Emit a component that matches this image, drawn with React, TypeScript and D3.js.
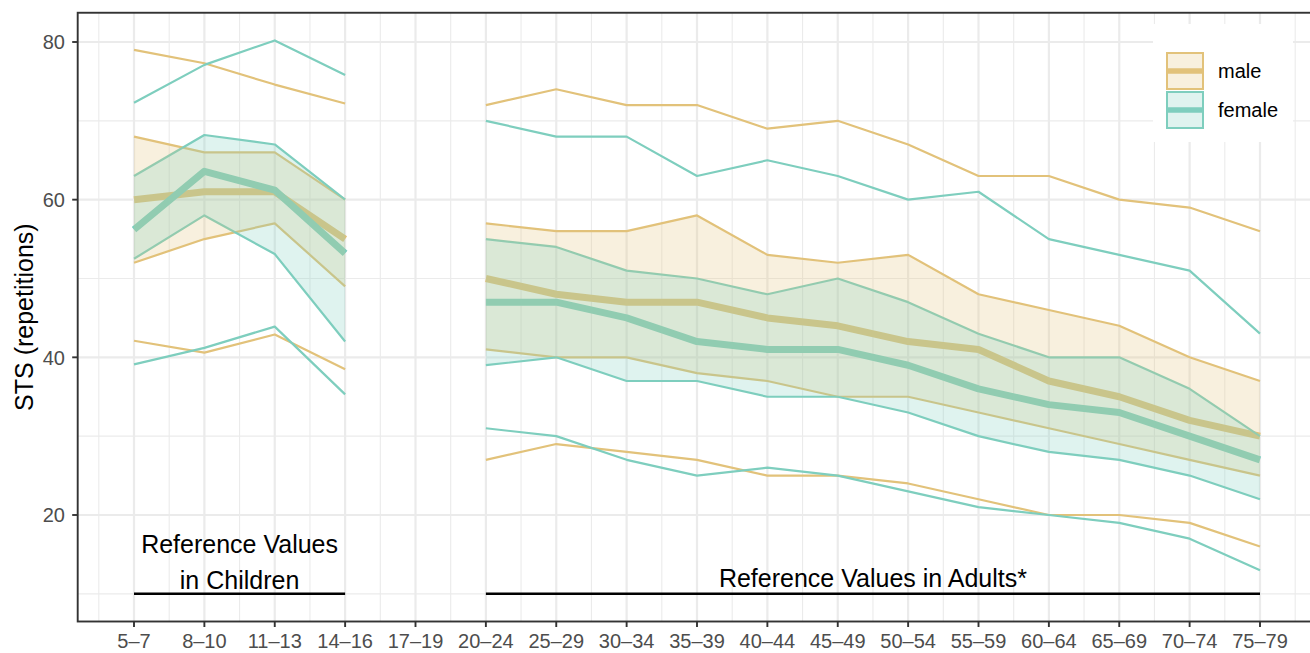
import React from "react";
import * as d3 from "d3";

const childAges = ["5–7", "8–10", "11–13", "14–16"];
const gapAges = ["17–19"];
const adultAges = ["20–24", "25–29", "30–34", "35–39", "40–44", "45–49", "50–54", "55–59", "60–64", "65–69", "70–74", "75–79"];
const ageLabels = [...childAges, ...gapAges, ...adultAges];

const yTicks = [20, 40, 60, 80];
const yMinor = [10, 30, 50, 70];

// children
const maleChildTop = [79, 77.3, 74.6, 72.2];
const maleChildUpper = [68, 66, 66, 60];
const maleChildMedian = [60, 61, 61, 55];
const maleChildLower = [52, 55, 57, 49];
const maleChildBottom = [42.1, 40.6, 42.9, 38.5];
const femaleChildTop = [72.3, 77.1, 80.2, 75.8];
const femaleChildUpper = [63, 68.2, 67, 60];
const femaleChildMedian = [56.2, 63.6, 61.2, 53.2];
const femaleChildLower = [52.5, 58, 53.1, 42];
const femaleChildBottom = [39.1, 41.2, 43.9, 35.3];

// adults
const maleAdultTop = [72, 74, 72, 72, 69, 70, 67, 63, 63, 60, 59, 56];
const maleAdultUpper = [57, 56, 56, 58, 53, 52, 53, 48, 46, 44, 40, 37];
const maleAdultMedian = [50, 48, 47, 47, 45, 44, 42, 41, 37, 35, 32, 30];
const maleAdultLower = [41, 40, 40, 38, 37, 35, 35, 33, 31, 29, 27, 25];
const maleAdultBottom = [27, 29, 28, 27, 25, 25, 24, 22, 20, 20, 19, 16];
const femaleAdultTop = [70, 68, 68, 63, 65, 63, 60, 61, 55, 53, 51, 43];
const femaleAdultUpper = [55, 54, 51, 50, 48, 50, 47, 43, 40, 40, 36, 30];
const femaleAdultMedian = [47, 47, 45, 42, 41, 41, 39, 36, 34, 33, 30, 27];
const femaleAdultLower = [39, 40, 37, 37, 35, 35, 33, 30, 28, 27, 25, 22];
const femaleAdultBottom = [31, 30, 27, 25, 26, 25, 23, 21, 20, 19, 17, 13];

const refLineValue = 10;

const MALE = "#E2C27A";
const FEMALE = "#7ECEBE";
const FONT = "'Liberation Sans', Arial, Helvetica, sans-serif";

export default function App() {
  const W = 1310, H = 653;
  const x = d3.scaleLinear().domain([0.2, 17.8]).range([77.7, 1316.3]);
  const y = d3.scaleLinear().domain([6.49, 83.71]).range([621.5, 12.75]);
  const pos = (label: string) => ageLabels.indexOf(label) + 1;

  const line = d3.line<[number, number]>().x(d => x(d[0])).y(d => y(d[1]));
  const area = d3.area<[number, number, number]>().x(d => x(d[0])).y0(d => y(d[1])).y1(d => y(d[2]));

  const pts = (ages: string[], vals: number[]) => ages.map((a, i) => [pos(a), vals[i]] as [number, number]);
  const band = (ages: string[], lo: number[], hi: number[]) => ages.map((a, i) => [pos(a), lo[i], hi[i]] as [number, number, number]);

  const sections = [
    { ages: childAges, m: [maleChildTop, maleChildUpper, maleChildMedian, maleChildLower, maleChildBottom], f: [femaleChildTop, femaleChildUpper, femaleChildMedian, femaleChildLower, femaleChildBottom] },
    { ages: adultAges, m: [maleAdultTop, maleAdultUpper, maleAdultMedian, maleAdultLower, maleAdultBottom], f: [femaleAdultTop, femaleAdultUpper, femaleAdultMedian, femaleAdultLower, femaleAdultBottom] },
  ];

  const xMajor = ageLabels.map((_, i) => i + 1);
  const xMinor = d3.range(0, 18).map(i => i + 0.5);
  const [px0, px1] = x.range();
  const [py0, py1] = y.range();

  const lines: React.ReactNode[] = [];
  sections.forEach((s, si) => {
    [{ arr: s.m, c: MALE, k: "m" }, { arr: s.f, c: FEMALE, k: "f" }].forEach(g => {
      g.arr.forEach((vals, vi) => {
        lines.push(
          <path key={`l${si}${g.k}${vi}`} d={line(pts(s.ages, vals)) || ""} fill="none" stroke={g.c}
            strokeWidth={vi === 2 ? 7 : 2.2} strokeLinejoin="round" />
        );
      });
    });
  });

  const ribbons: React.ReactNode[] = [];
  [{ k: "m", c: MALE }, { k: "f", c: FEMALE }].forEach(g => {
    sections.forEach((s, si) => {
      const arr = g.k === "m" ? s.m : s.f;
      ribbons.push(
        <path key={`r${g.k}${si}`} d={area(band(s.ages, arr[3], arr[1])) || ""} fill={g.c} fillOpacity={0.25} stroke="none" />
      );
    });
  });

  const cMid = (x(pos(childAges[0])) + x(pos(childAges[childAges.length - 1]))) / 2;
  const aMid = (x(pos(adultAges[0])) + x(pos(adultAges[adultAges.length - 1]))) / 2;
  const yRef = y(refLineValue);

  return (
    <svg width={W} height={H} style={{ position: "absolute", left: 0, top: 0, background: "#fff" }} fontFamily={FONT}>
      <defs>
        <clipPath id="panel"><rect x={px0} y={py1} width={px1 - px0} height={py0 - py1} /></clipPath>
      </defs>
      <rect x={0} y={0} width={W} height={H} fill="#fff" />
      <g clipPath="url(#panel)">
        {yMinor.map(v => <line key={`ym${v}`} x1={px0} x2={px1} y1={y(v)} y2={y(v)} stroke="#EBEBEB" strokeWidth={1.1} />)}
        {xMinor.map(v => <line key={`xm${v}`} y1={py0} y2={py1} x1={x(v)} x2={x(v)} stroke="#EBEBEB" strokeWidth={1.1} />)}
        {yTicks.map(v => <line key={`yM${v}`} x1={px0} x2={px1} y1={y(v)} y2={y(v)} stroke="#EBEBEB" strokeWidth={2.2} />)}
        {xMajor.map(v => <line key={`xM${v}`} y1={py0} y2={py1} x1={x(v)} x2={x(v)} stroke="#EBEBEB" strokeWidth={2.2} />)}
        {lines}
        {ribbons}
        <line x1={x(pos(childAges[0]))} x2={x(pos(childAges[childAges.length - 1]))} y1={yRef} y2={yRef} stroke="#000" strokeWidth={2.5} />
        <line x1={x(pos(adultAges[0]))} x2={x(pos(adultAges[adultAges.length - 1]))} y1={yRef} y2={yRef} stroke="#000" strokeWidth={2.5} />
        <text x={cMid} y={yRef - 41} textAnchor="middle" fontSize={25} fill="#000">Reference Values</text>
        <text x={cMid} y={yRef - 5} textAnchor="middle" fontSize={25} fill="#000">in Children</text>
        <text x={aMid} y={yRef - 7} textAnchor="middle" fontSize={25} fill="#000">Reference Values in Adults*</text>
        {/* legend */}
        <rect x={1153} y={24} width={140} height={118} fill="#fff" />
        {[{ label: "male", c: MALE }, { label: "female", c: FEMALE }].map((d, i) => {
          const ky = 53 + i * 39;
          return (
            <g key={d.label}>
              <rect x={1167} y={ky} width={36} height={36} fill="#fff" />
              <line x1={1168} x2={1202} y1={ky + 18} y2={ky + 18} stroke={d.c} strokeWidth={5.5} />
              <rect x={1167} y={ky} width={36} height={36} fill={d.c} fillOpacity={0.25} stroke={d.c} strokeWidth={2} />
              <text x={1218} y={ky + 24.5} fontSize={20} fill="#000">{d.label}</text>
            </g>
          );
        })}
      </g>
      <rect x={px0} y={py1} width={px1 - px0} height={py0 - py1} fill="none" stroke="#333333" strokeWidth={1.9} />
      {xMajor.map((v, i) => (
        <g key={`xt${v}`}>
          <line x1={x(v)} x2={x(v)} y1={py0} y2={py0 + 5.5} stroke="#333333" strokeWidth={1.9} />
          <text x={x(v)} y={648} textAnchor="middle" fontSize={20} fill="#4D4D4D">{ageLabels[i]}</text>
        </g>
      ))}
      {yTicks.map(v => (
        <g key={`yt${v}`}>
          <line x1={px0 - 5.5} x2={px0} y1={y(v)} y2={y(v)} stroke="#333333" strokeWidth={1.9} />
          <text x={65} y={y(v) + 7.2} textAnchor="end" fontSize={20} fill="#4D4D4D">{v}</text>
        </g>
      ))}
      <text transform={`translate(33,${(py0 + py1) / 2}) rotate(-90)`} textAnchor="middle" fontSize={25} fill="#000">STS (repetitions)</text>
    </svg>
  );
}
